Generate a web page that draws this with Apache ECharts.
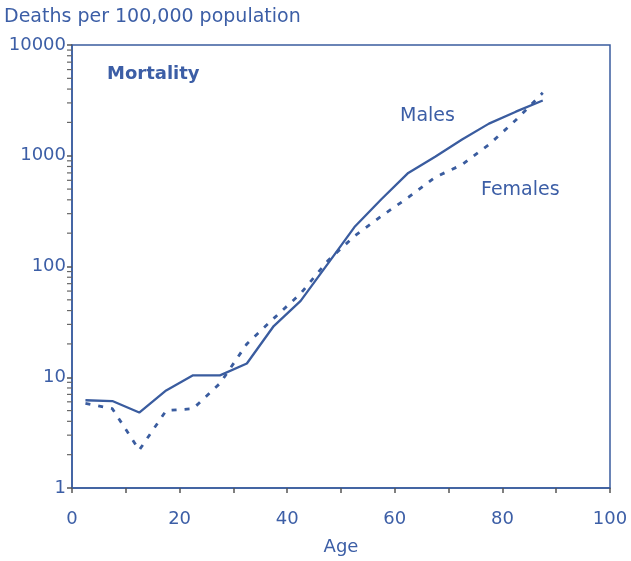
<!DOCTYPE html>
<html>
<head>
<meta charset="utf-8">
<script src="https://cdn.jsdelivr.net/npm/echarts@6/dist/echarts.min.js"></script>
<style>
  html, body { margin: 0; padding: 0; background: #fff; }
  #main { width: 631px; height: 561px; }
</style>
</head>
<body>
<div id="main"></div>
<script>
var ages = [2.5, 7.5, 12.5, 17.5, 22.5, 27.5, 32.5, 37.5, 42.5, 47.5, 52.5, 57.5, 62.5, 67.5, 72.5, 77.5, 82.5, 87.5];
var males = [6.2, 6.1, 4.8, 7.6, 10.4, 10.4, 13.3, 29, 49, 105, 227, 405, 700, 980, 1400, 1950, 2500, 3150];
var females = [5.8, 5.2, 2.2, 5.0, 5.2, 8.8, 20, 34, 57, 112, 188, 285, 420, 640, 830, 1260, 2100, 3700];
var minorTicks = [2, 3, 4, 5, 6, 7, 8, 9, 20, 30, 40, 50, 60, 70, 80, 90,
    200, 300, 400, 500, 600, 700, 800, 900, 2000, 3000, 4000, 5000, 6000, 7000, 8000, 9000];

var blue = '#3a5c9f';
var textBlue = '#3c5ea6';
var font = '"DejaVu Sans", sans-serif';

function pairs(xs, ys) {
    var out = [];
    for (var i = 0; i < xs.length; i++) out.push([xs[i], ys[i]]);
    return out;
}

var chart = echarts.init(document.getElementById('main'));
var option = {
    animation: false,
    grid: { left: 72, right: 21, top: 45, bottom: 72, show: true, borderColor: blue, borderWidth: 1.5, backgroundColor: 'transparent' },
    graphic: [
        { type: 'text', left: 4, top: 8, style: { text: 'Deaths per 100,000 population', fill: textBlue, font: '19px ' + font } },
        { type: 'text', left: 107, top: 65, style: { text: 'Mortality', fill: textBlue, font: 'bold 18px ' + font } },
        { type: 'text', left: 400, top: 107, style: { text: 'Males', fill: textBlue, font: '19px ' + font } },
        { type: 'text', left: 481, top: 181, style: { text: 'Females', fill: textBlue, font: '19px ' + font } }
    ],
    xAxis: {
        type: 'value', min: 0, max: 100, interval: 10,
        name: 'Age', nameLocation: 'middle', nameGap: 50,
        nameTextStyle: { color: textBlue, fontSize: 18, fontFamily: font },
        axisLine: { lineStyle: { color: blue, width: 1.5 } },
        axisTick: { show: true, length: 5, lineStyle: { color: '#555', width: 1.5 } },
        axisLabel: { color: textBlue, fontSize: 18, fontFamily: font, margin: 22,
            formatter: function (v) { return v % 20 === 0 ? String(v) : ''; } },
        splitLine: { show: false }
    },
    yAxis: {
        type: 'log', logBase: 10, min: 1, max: 10000,
        axisLine: { show: true, lineStyle: { color: blue, width: 1.5 } },
        axisTick: { show: true, length: 5, lineStyle: { color: '#555', width: 1.5 } },
        axisLabel: { color: textBlue, fontSize: 18, fontFamily: font, margin: 6,
            formatter: function (v) { return String(Math.round(v)); } },
        splitLine: { show: false }
    },
    series: [
        {
            name: 'Males', type: 'line', data: pairs(ages, males), symbol: 'none',
            lineStyle: { color: blue, width: 2.3 }
        },
        {
            name: 'Females', type: 'line', data: pairs(ages, females), symbol: 'none',
            lineStyle: { color: blue, width: 2.8, type: [5, 8] }
        },
        {
            name: 'minor', type: 'custom', clip: false, silent: true,
            data: minorTicks.map(function (v) { return [0, v]; }),
            renderItem: function (params, api) {
                var p = api.coord([0, api.value(1)]);
                return {
                    type: 'line',
                    shape: { x1: p[0] - 5, y1: p[1], x2: p[0], y2: p[1] },
                    style: { stroke: '#666', lineWidth: 1.2 }
                };
            }
        }
    ]
};
chart.setOption(option);
</script>
</body>
</html>
